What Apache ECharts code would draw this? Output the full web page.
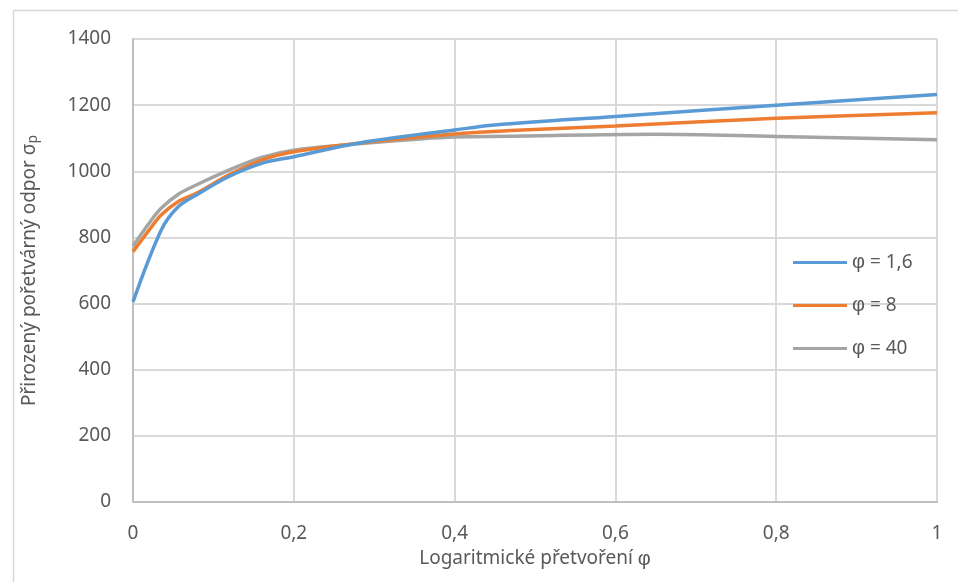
<!DOCTYPE html>
<html>
<head>
<meta charset="utf-8">
<script src="https://cdn.jsdelivr.net/npm/echarts@6/dist/echarts.min.js"></script>
<style>html,body{margin:0;padding:0;background:#fff}#c{width:958px;height:582px}</style>
</head>
<body>
<div id="c"></div>
<script>
const xTicks = [0, 0.2, 0.4, 0.6, 0.8, 1];
const yTicks = [0, 200, 400, 600, 800, 1000, 1200, 1400];
const seriesNames = ['φ = 1,6', 'φ = 8', 'φ = 40'];
const blue = [[0,605],[0.035,822],[0.055,890],[0.08,930],[0.12,985],[0.16,1024],[0.2,1044],[0.28,1085],[0.4,1125],[0.45,1140],[0.6,1166],[0.8,1200],[1,1232]];
const orange = [[0,757],[0.02,822],[0.035,868],[0.056,908],[0.08,935],[0.12,990],[0.16,1034],[0.2,1059],[0.28,1085],[0.4,1113],[0.47,1123],[0.6,1137],[0.8,1160],[1,1177]];
const gray = [[0,774],[0.02,843],[0.035,888],[0.056,930],[0.08,960],[0.12,1004],[0.16,1042],[0.2,1064],[0.28,1083],[0.4,1104],[0.47,1106],[0.65,1112],[0.8,1105],[1,1095]];
const colors = ['#5B9BD5', '#ED7D31', '#A5A5A5'];
const allData = [blue, orange, gray];

const FONT = 'Noto Sans';
const PHI_FONT = 'Liberation Sans';
const chart = echarts.init(document.getElementById('c'), null, {renderer: 'canvas'});
const fmt = v => String(v).replace('.', ',');
const phiRich = v => v.split('φ').join('{p|φ}');
chart.setOption({
  animation: false,
  color: colors,
  textStyle: {fontFamily: FONT},
  graphic: [{
    type: 'rect', left: 11, top: 8, silent: true,
    shape: {width: 1000, height: 1000},
    style: {fill: 'none', stroke: '#D9D9D9', lineWidth: 1.5}
  }],
  grid: {left: 133, right: 21, top: 39, bottom: 80},
  legend: {
    orient: 'vertical', left: 793, top: 252, padding: 0,
    itemWidth: 54, itemHeight: 3, itemGap: 22, icon: 'rect',
    formatter: n => phiRich(n),
    textStyle: {
      fontFamily: FONT, fontSize: 19, color: '#595959', lineHeight: 21,
      rich: {p: {fontFamily: PHI_FONT, fontSize: 20, color: '#595959'}}
    },
    data: seriesNames
  },
  xAxis: {
    type: 'value', min: 0, max: 1, interval: 0.2,
    name: 'Logaritmické přetvoření {p|φ}', nameLocation: 'middle', nameGap: 47,
    nameTextStyle: {fontFamily: FONT, fontSize: 19, color: '#595959',
      rich: {p: {fontFamily: PHI_FONT, fontSize: 20, color: '#595959'}}},
    axisLine: {show: true, lineStyle: {color: '#BFBFBF', width: 2}},
    axisTick: {show: false},
    axisLabel: {fontFamily: FONT, fontSize: 19, color: '#595959', margin: 22, formatter: v => fmt(v)},
    splitLine: {show: true, lineStyle: {color: '#D9D9D9', width: 2}}
  },
  yAxis: {
    type: 'value', min: 0, max: 1400, interval: 200,
    name: '{a|Přirozený pořetvárný odpor σ}{s|p}', nameLocation: 'middle', nameGap: 93, nameRotate: 90,
    nameTextStyle: {
      rich: {
        a: {fontFamily: FONT, fontSize: 19, color: '#595959'},
        s: {fontFamily: FONT, fontSize: 14, color: '#595959', verticalAlign: 'bottom', padding: [6,0,0,0]}
      }
    },
    axisLine: {show: true, lineStyle: {color: '#BFBFBF', width: 2}},
    axisTick: {show: false},
    axisLabel: {fontFamily: FONT, fontSize: 19, color: '#595959', margin: 22, formatter: v => String(v)},
    splitLine: {show: true, lineStyle: {color: '#D9D9D9', width: 2}}
  },
  series: seriesNames.map((n, i) => ({
    name: n, type: 'line', data: allData[i], smooth: 0.35,
    showSymbol: false, symbol: 'none',
    lineStyle: {width: 3.5, color: colors[i]},
    z: 3 - i
  }))
});
</script>
</body>
</html>
